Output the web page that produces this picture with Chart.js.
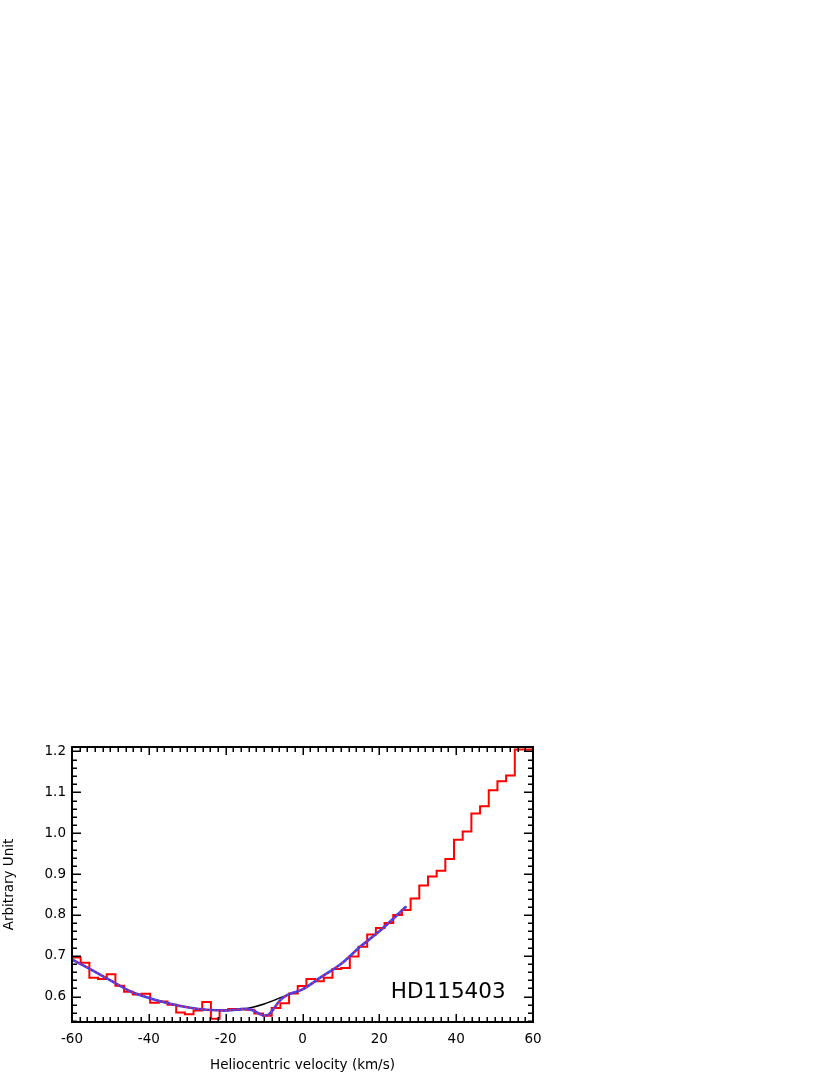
<!DOCTYPE html>
<html>
<head>
<meta charset="utf-8">
<script src="https://cdn.jsdelivr.net/npm/chart.js@4.4.1/dist/chart.umd.min.js"></script>
<style>
  html, body { margin: 0; padding: 0; background: #fff; }
  #wrap { position: absolute; left: 0; top: 0; width: 830px; height: 1075px; }
</style>
</head>
<body>
<div id="wrap"><canvas id="c" width="830" height="1075"></canvas></div>
<script>
// ---------- DATA ----------
const binLeftEdges = [-60, -57.74, -55.48, -53.22, -50.96, -48.70, -46.44, -44.18, -41.92, -39.66,
  -37.40, -35.14, -32.88, -30.62, -28.36, -26.10, -23.84, -21.58, -19.32, -17.06,
  -14.80, -12.54, -10.28, -8.02, -5.76, -3.50, -1.24, 1.02, 3.28, 5.54,
  7.80, 10.06, 12.32, 14.58, 16.84, 19.10, 21.36, 23.62, 25.88, 28.14,
  30.40, 32.66, 34.92, 37.18, 39.44, 41.70, 43.96, 46.22, 48.48, 50.74,
  53.00, 55.26, 57.52];
const binEnd = 60;
const binValues = [0.696, 0.683, 0.646, 0.643, 0.655, 0.627, 0.612, 0.605, 0.607, 0.585,
  0.588, 0.580, 0.561, 0.557, 0.566, 0.587, 0.546, 0.567, 0.570, 0.569,
  0.568, 0.559, 0.553, 0.572, 0.584, 0.608, 0.626, 0.643, 0.638, 0.646,
  0.668, 0.670, 0.698, 0.722, 0.752, 0.768, 0.780, 0.800, 0.812, 0.840,
  0.872, 0.894, 0.908, 0.937, 0.984, 1.004, 1.048, 1.066, 1.105, 1.127,
  1.141, 1.205, 1.205];

const continuumV = [-60, -55, -50, -45, -40, -35, -30, -25, -20, -15, -10, -5, -3, 0, 5, 10, 15, 20, 25, 27];
const continuumY = [0.691, 0.666, 0.640, 0.614, 0.597, 0.584, 0.574, 0.568, 0.566, 0.570, 0.582, 0.600, 0.607, 0.618, 0.649, 0.680, 0.722, 0.760, 0.803, 0.821];

const modelV = [-60, -55, -50, -45, -40, -35, -30, -25, -20, -15, -13, -12, -11, -10, -9, -8, -7, -6, -5, -4, -3, 0, 5, 10, 15, 20, 25, 27];
const modelY = [0.691, 0.666, 0.640, 0.614, 0.597, 0.584, 0.574, 0.568, 0.566, 0.570, 0.567, 0.562, 0.557, 0.554, 0.555, 0.564, 0.577, 0.589, 0.598, 0.604, 0.608, 0.618, 0.649, 0.680, 0.722, 0.760, 0.803, 0.821];

const xTicks = [-60, -40, -20, 0, 20, 40, 60];
const yTicks = [0.6, 0.7, 0.8, 0.9, 1.0, 1.1, 1.2];
const xRange = [-60, 60];
const yRange = [0.538, 1.211];
const xTitle = 'Heliocentric velocity (km/s)';
const yTitle = 'Arbitrary Unit';
const starLabel = 'HD115403';
const starLabelPos = [23, 0.597];

// ---------- BUILD ----------
const histPoints = binLeftEdges.map((x, i) => ({ x: x, y: binValues[i] }));
histPoints.push({ x: binEnd, y: binValues[binValues.length - 1] });
const contPoints = continuumV.map((x, i) => ({ x: x, y: continuumY[i] }));
const modelPoints = modelV.map((x, i) => ({ x: x, y: modelY[i] }));

const FONT = '"DejaVu Sans", "Noto Sans", sans-serif';

const frameTicks = {
  id: 'frameTicks',
  afterDraw(chart) {
    const { ctx, chartArea: a, scales: { x, y } } = chart;
    ctx.save();
    ctx.strokeStyle = '#000';
    ctx.lineWidth = 1.5;
    ctx.beginPath();
    for (let i = -30; i <= 30; i++) {
      const v = i * 2;
      const px = Math.round(x.getPixelForValue(v)) + 0.25;
      const len = (i % 10 === 0) ? 8 : 5;
      ctx.moveTo(px, a.bottom); ctx.lineTo(px, a.bottom - len);
      ctx.moveTo(px, a.top); ctx.lineTo(px, a.top + len);
    }
    for (let i = 27; i <= 60; i++) {
      const v = i * 0.02;
      const py = Math.round(y.getPixelForValue(v)) + 0.25;
      const len = (i % 5 === 0) ? 9 : 5;
      ctx.moveTo(a.left, py); ctx.lineTo(a.left + len, py);
      ctx.moveTo(a.right, py); ctx.lineTo(a.right - len, py);
    }
    ctx.stroke();
    ctx.lineWidth = 2;
    ctx.strokeRect(a.left, a.top, a.right - a.left, a.bottom - a.top);
    ctx.fillStyle = '#000';
    ctx.font = '21.5px ' + FONT;
    ctx.textAlign = 'left';
    ctx.textBaseline = 'alphabetic';
    ctx.fillText(starLabel, x.getPixelForValue(starLabelPos[0]), y.getPixelForValue(starLabelPos[1]));
    ctx.restore();
  }
};

new Chart(document.getElementById('c'), {
  type: 'line',
  data: {
    datasets: [
      { data: modelPoints, borderColor: '#ff3030', borderWidth: 1.4, borderDash: [1.5, 2.5],
        pointRadius: 0, cubicInterpolationMode: 'monotone', order: 0 },
      { data: modelPoints, borderColor: '#3b3bf5', borderWidth: 2.6,
        pointRadius: 0, cubicInterpolationMode: 'monotone', order: 1 },
      { data: contPoints, borderColor: '#000000', borderWidth: 1.5,
        pointRadius: 0, cubicInterpolationMode: 'monotone', order: 2 },
      { data: histPoints, borderColor: '#ff0000', borderWidth: 2, stepped: 'before',
        pointRadius: 0, order: 3 }
    ]
  },
  options: {
    responsive: false,
    animation: false,
    devicePixelRatio: 1,
    layout: { padding: { top: 747, right: 297, left: 0, bottom: 0 } },
    plugins: { legend: { display: false }, tooltip: { enabled: false } },
    scales: {
      x: {
        type: 'linear', min: xRange[0], max: xRange[1],
        afterBuildTicks: (s) => { s.ticks = xTicks.map(v => ({ value: v })); },
        afterFit: (s) => { s.height = 53; },
        grid: { display: false, drawTicks: false },
        border: { display: false },
        ticks: { color: '#000', font: { family: FONT, size: 13.5 }, padding: 9, maxRotation: 0,
          callback: (v) => String(v) },
        title: { display: true, text: xTitle, color: '#000', font: { family: FONT, size: 13.5 },
          padding: { top: 0, bottom: 1 } }
      },
      y: {
        type: 'linear', min: yRange[0], max: yRange[1],
        afterBuildTicks: (s) => { s.ticks = yTicks.map(v => ({ value: v })); },
        afterFit: (s) => { s.width = 72; },
        grid: { display: false, drawTicks: false },
        border: { display: false },
        ticks: { color: '#000', font: { family: FONT, size: 13.5 }, padding: 6,
          callback: (v) => Number(v).toFixed(1) },
        title: { display: true, text: yTitle, color: '#000', font: { family: FONT, size: 13.5 },
          padding: { top: 1, bottom: 0 } }
      }
    }
  },
  plugins: [frameTicks]
});
</script>
</body>
</html>
